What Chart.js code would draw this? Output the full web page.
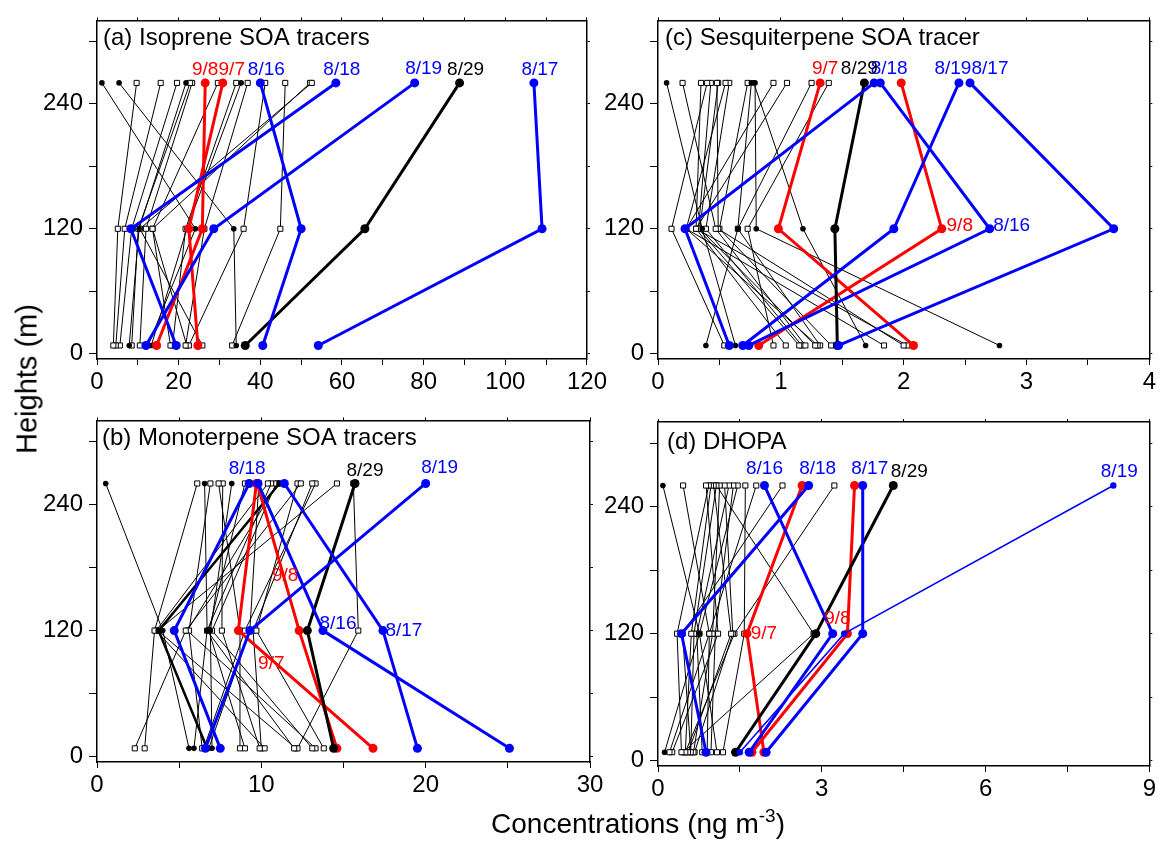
<!DOCTYPE html>
<html>
<head>
<meta charset="utf-8">
<script src="https://cdn.jsdelivr.net/npm/chart.js@4.4.1/dist/chart.umd.min.js"></script>
<style>
  body { margin: 0; background: #fff; }
  #page { position: relative; width: 1159px; height: 841px; overflow: hidden; font-family: "Liberation Sans", Arial, sans-serif; }
  canvas { position: absolute; }
  .axtitle { position: absolute; font-size: 28px; color: #000; white-space: nowrap; line-height: 1; }
  .axtitle sup { font-size: 19px; vertical-align: 11px; }
</style>
</head>
<body>
<div id="page">
  <canvas id="panelA" width="610" height="400" style="left:0;top:0"></canvas>
  <canvas id="panelC" width="559" height="400" style="left:600px;top:0"></canvas>
  <canvas id="panelB" width="610" height="420" style="left:0;top:400px"></canvas>
  <canvas id="panelD" width="559" height="420" style="left:600px;top:400px"></canvas>
  <div class="axtitle" style="left:27px;top:379px;font-size:29px;transform:translate(-50%,-50%) rotate(-90deg)">Heights (m)</div>
  <div class="axtitle" style="left:638px;top:822px;transform:translate(-50%,-50%)">Concentrations (ng m<sup>-3</sup>)</div>
</div>
<script>
// sampling heights (m): bottom, middle, top
const heights = [8, 120, 260];
const heightTicks = [0, 120, 240];

// (a) isoprene SOA tracers, each profile = [bottom, middle, top]
const isoXTicks = [0, 20, 40, 60, 80, 100, 120];
const isoOpen = [
  [4.0, 5.1, 9.7], [4.6, 6.8, 15.6], [5.6, 8.5, 19.6], [8.5, 10.1, 22.8],
  [10.5, 12.0, 23.3], [18.0, 13.6, 29.6], [18.5, 21.7, 34.1], [21.7, 26.3, 36.9],
  [22.5, 35.9, 41.2], [33.1, 44.9, 46.1], [25.8, 10.5, 52.6], [22.0, 13.6, 52.2]
];
const isoDots = [[12.5, 24.1, 1.2], [34.1, 33.5, 5.4], [7.9, 10.3, 21.8], [13.3, 22.0, 35.3]];
const isoDays = ["8/16", "8/17", "8/18", "8/19", "8/29", "9/7", "9/8"];
const isoDayVals = [
  [40.6, 50.0, 40.0], [54.2, 109.0, 107.0], [19.4, 8.3, 58.5], [12.0, 28.6, 77.8],
  [36.3, 65.6, 88.8], [24.7, 22.5, 30.8], [14.6, 25.8, 26.5]
];

// (c) sesquiterpene SOA tracer
const sesXTicks = [0, 1, 2, 3, 4];
const sesOpen = [
  [1.20, 0.47, 0.20], [1.04, 0.31, 0.35], [0.54, 0.11, 0.40], [1.15, 0.33, 0.43],
  [2.00, 0.49, 0.48], [1.28, 0.34, 0.49], [1.30, 0.23, 0.55], [1.17, 0.39, 0.58],
  [1.41, 0.50, 0.73], [1.84, 0.23, 0.94], [2.03, 0.31, 1.05], [1.32, 0.65, 1.25],
  [0.94, 0.73, 1.39]
];
const sesDots = [[1.69, 1.18, 0.78], [2.78, 0.80, 0.79], [0.63, 0.36, 0.07], [0.39, 0.65, 0.76]];
const sesDays = ["8/16", "8/17", "8/18", "8/19", "8/29", "9/7", "9/8"];
const sesDayVals = [
  [0.74, 2.70, 1.81], [1.47, 3.71, 2.54], [0.58, 0.22, 1.76], [0.69, 1.92, 2.45],
  [1.46, 1.44, 1.68], [2.08, 0.98, 1.32], [0.82, 2.31, 1.98]
];

// (b) monoterpene SOA tracers
const monoXTicks = [0, 10, 20, 30];
const monoOpen = [
  [2.3, 5.4, 12.4], [2.9, 3.5, 6.1], [6.4, 5.6, 6.9], [8.7, 8.7, 7.4],
  [9.9, 7.6, 7.65], [10.2, 3.6, 10.4], [12.0, 6.7, 10.6], [13.1, 7.0, 10.9],
  [13.3, 5.5, 11.0], [13.8, 9.7, 12.2], [12.2, 15.9, 15.6], [10.0, 9.5, 13.1],
  [6.5, 9.0, 13.3], [12.1, 3.7, 14.6], [9.0, 6.8, 9.0]
];
const monoDots = [[5.6, 4.0, 0.53], [5.9, 6.7, 6.55], [7.0, 6.9, 8.2], [6.8, 9.3, 9.85]];
const monoBold = [[6.7, 3.75, 11.1]];
const monoDays = ["8/16", "8/17", "8/18", "8/19", "8/29", "9/7", "9/8"];
const monoDayVals = [
  [25.1, 13.75, 9.8], [19.5, 17.4, 11.4], [7.5, 4.7, 9.26], [6.6, 9.3, 20.0],
  [14.4, 12.8, 15.7], [16.8, 8.6, 9.7], [14.6, 12.3, 9.75]
];

// (d) DHOPA
const dhopaXTicks = [0, 3, 6, 9];
const dhopaOpen = [
  [0.21, 0.94, 0.46], [0.26, 1.10, 0.88], [0.43, 0.35, 0.93], [0.50, 0.61, 0.97],
  [0.55, 1.34, 1.02], [0.60, 0.66, 1.07], [0.65, 1.00, 1.13], [0.67, 1.37, 1.22],
  [0.81, 0.71, 1.30], [0.97, 1.05, 1.38], [1.08, 0.76, 1.46], [1.19, 1.58, 1.60],
  [0.46, 2.85, 1.07], [0.90, 0.94, 1.80], [0.60, 0.45, 2.28], [0.50, 1.40, 3.23]
];
const dhopaDots = [[0.12, 0.76, 0.09]];
const dhopaDays = ["8/16", "8/17", "8/18", "8/19", "8/29", "9/7", "9/8"];
const dhopaDayVals = [
  [1.67, 3.20, 1.95], [1.98, 3.75, 3.75], [0.88, 0.43, 2.76], [1.50, 3.41, 8.34],
  [1.42, 2.89, 4.31], [1.94, 1.63, 2.64], [1.72, 3.47, 3.60]
];

// styling
const FONT = '"Liberation Sans", Arial, sans-serif';
Chart.defaults.font.family = FONT;
Chart.defaults.color = "#000";
const dayColor = { "8/16": "#0000ff", "8/17": "#0000ff", "8/18": "#0000ff", "8/19": "#0000ff",
  "8/29": "#000000", "9/7": "#ff0000", "9/8": "#ff0000" };

// label placement: [point index, dx, dy]
const isoTagPos = { "9/8": [2, 0, -13], "9/7": [2, 9, -13], "8/16": [2, 6, -13], "8/18": [2, 6, -13],
  "8/19": [2, 9, -14], "8/29": [2, 6, -13], "8/17": [2, 6, -13] };
const sesTagPos = { "9/7": [2, 5, -14], "8/29": [2, -5, -14], "8/18": [2, 15, -14], "8/19": [2, -6, -14],
  "8/17": [2, 20, -14], "9/8": [1, 18, -3], "8/16": [1, 22, -3] };
const monoTagPos = { "8/18": [2, -2, -15], "8/29": [2, 10, -13], "8/19": [2, 14, -16],
  "9/8": [1, -14, -55], "9/7": [1, 33, 33], "8/16": [1, 15, -7], "8/17": [1, 21, 0] };
const dhopaTagPos = { "8/16": [2, 0, -17], "8/18": [2, 9, -17], "8/17": [2, 7, -17], "8/29": [2, 16, -14],
  "8/19": [2, 6, -14], "9/8": [1, -10, -15], "9/7": [1, 17, 0] };

function profile(vals) {
  return vals.map((v, i) => ({ x: v, y: heights[i] }));
}

function withMinors(major, max) {
  const step = major[1] - major[0];
  const out = [];
  major.forEach(v => {
    out.push(v);
    if (v + step / 2 <= max + 1e-9) out.push(v + step / 2);
  });
  return out;
}

const tagPlugin = {
  id: "tags",
  afterDatasetsDraw(chart) {
    const ctx = chart.ctx;
    chart.data.datasets.forEach((ds, i) => {
      if (!ds.tag) return;
      const pt = chart.getDatasetMeta(i).data[ds.tag.at];
      ctx.save();
      ctx.font = "19px " + FONT;
      ctx.fillStyle = ds.borderColor;
      ctx.textAlign = "center";
      ctx.textBaseline = "middle";
      ctx.fillText(ds.tag.text, pt.x + ds.tag.dx, pt.y + ds.tag.dy);
      ctx.restore();
    });
  }
};

const titlePlugin = {
  id: "panelTitle",
  afterDraw(chart, args, opts) {
    const ctx = chart.ctx;
    ctx.save();
    ctx.font = "24px " + FONT;
    ctx.fillStyle = "#000";
    ctx.textBaseline = "middle";
    ctx.fillText(opts.text, chart.chartArea.left + opts.dx, chart.chartArea.top + opts.dy);
    ctx.restore();
  }
};

function makeAxis(major, min, max, position, size, mirror) {
  const ticks = withMinors(major, max);
  const horizontal = position === "top" || position === "bottom";
  return {
    type: "linear",
    position: position,
    min: min,
    max: max,
    afterBuildTicks: a => { a.ticks = ticks.map(v => ({ value: v })); },
    afterFit: s => { if (horizontal) s.height = size; else s.width = size; },
    ticks: {
      display: !mirror,
      autoSkip: false,
      maxRotation: 0,
      padding: horizontal ? 3 : 6,
      font: { size: 24 },
      color: "#000",
      callback: v => (major.includes(v) ? String(v) : "")
    },
    grid: {
      drawOnChartArea: false,
      drawTicks: true,
      tickLength: mirror ? 3 : (horizontal ? 6 : 8),
      color: "#000",
      lineWidth: 1
    },
    border: { display: true, color: "#000", width: 1.5 }
  };
}

function makePanel(id, p) {
  const datasets = [];
  p.days.forEach((d, i) => {
    const pos = p.tagPos[d];
    const thin = p.thinDay === d;
    datasets.push({
      data: profile(p.dayVals[i]),
      showLine: true,
      borderColor: dayColor[d],
      backgroundColor: dayColor[d],
      borderWidth: thin ? 1.5 : 3,
      pointStyle: "circle",
      pointRadius: thin ? 3.2 : 4.5,
      pointBorderWidth: 0,
      order: 1,
      tag: { text: d, at: pos[0], dx: pos[1], dy: pos[2] }
    });
  });
  (p.bold || []).forEach(v => {
    datasets.push({
      data: profile(v), showLine: true, borderColor: "#000", backgroundColor: "#000",
      borderWidth: 2.5, pointStyle: "circle", pointRadius: 3.2, pointBorderWidth: 0, order: 1
    });
  });
  p.dots.forEach(v => {
    datasets.push({
      data: profile(v), showLine: true, borderColor: "#000", backgroundColor: "#000",
      borderWidth: 1, pointStyle: "circle", pointRadius: 2.8, pointBorderWidth: 0, order: 2
    });
  });
  p.open.forEach(v => {
    datasets.push({
      data: profile(v), showLine: true, borderColor: "#000", borderWidth: 1,
      pointStyle: "rect", pointRadius: 3.6, pointBackgroundColor: "#fff",
      pointBorderColor: "#000", pointBorderWidth: 1, order: 2
    });
  });

  return new Chart(document.getElementById(id), {
    type: "scatter",
    data: { datasets: datasets },
    options: {
      responsive: false,
      animation: false,
      layout: { padding: 0 },
      plugins: {
        legend: { display: false },
        tooltip: { enabled: false },
        panelTitle: p.title
      },
      scales: {
        x: makeAxis(p.xTicks, 0, p.xMax, "bottom", p.box[3], false),
        x2: makeAxis(p.xTicks, 0, p.xMax, "top", p.box[2], true),
        y: makeAxis(heightTicks, -5, 320, "left", p.box[0], false),
        y2: makeAxis(heightTicks, -5, 320, "right", p.box[1], true)
      }
    },
    plugins: [tagPlugin, titlePlugin]
  });
}

// box = [left, right, top, bottom] axis sizes inside each canvas
makePanel("panelA", {
  xTicks: isoXTicks, xMax: 120, open: isoOpen, dots: isoDots,
  days: isoDays, dayVals: isoDayVals, tagPos: isoTagPos,
  box: [97, 20, 15, 41], title: { text: "(a) Isoprene SOA tracers", dx: 6, dy: 18 }
});
makePanel("panelC", {
  xTicks: sesXTicks, xMax: 4, open: sesOpen, dots: sesDots,
  days: sesDays, dayVals: sesDayVals, tagPos: sesTagPos,
  box: [58, 8, 15, 41], title: { text: "(c) Sesquiterpene SOA tracer", dx: 7, dy: 18 }
});
makePanel("panelB", {
  xTicks: monoXTicks, xMax: 30, open: monoOpen, dots: monoDots, bold: monoBold,
  days: monoDays, dayVals: monoDayVals, tagPos: monoTagPos,
  box: [97, 20, 17, 58], title: { text: "(b) Monoterpene SOA tracers", dx: 5, dy: 18 }
});
makePanel("panelD", {
  xTicks: dhopaXTicks, xMax: 9, open: dhopaOpen, dots: dhopaDots, thinDay: "8/19",
  days: dhopaDays, dayVals: dhopaDayVals, tagPos: dhopaTagPos,
  box: [58, 8, 22, 54], title: { text: "(d) DHOPA", dx: 9, dy: 20 }
});
</script>
</body>
</html>
